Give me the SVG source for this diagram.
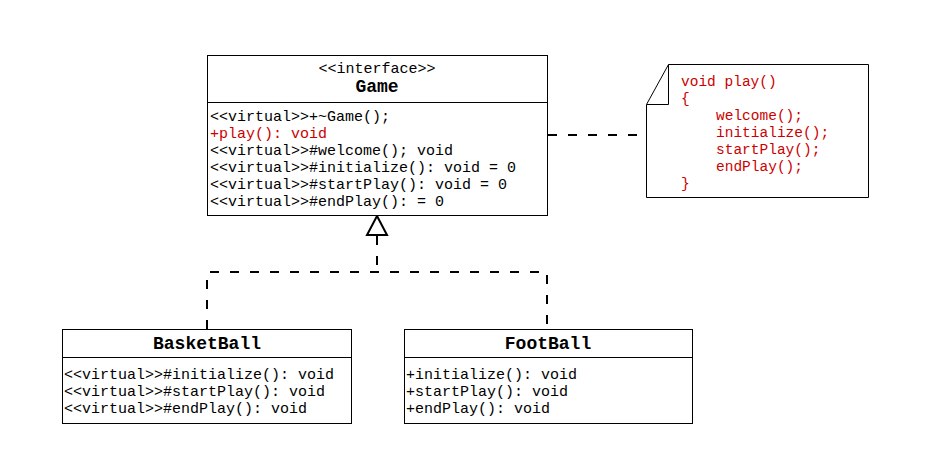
<svg xmlns="http://www.w3.org/2000/svg" width="926" height="460" viewBox="0 0 926 460">
<style>
.box{fill:#fff;stroke:#000;stroke-width:1}
.t{font-family:"Liberation Mono","DejaVu Sans Mono",monospace;font-size:15px;fill:#000}
.h{font-family:"Liberation Mono","DejaVu Sans Mono",monospace;font-size:18px;font-weight:bold;fill:#000;text-anchor:middle}
.r{fill:#cc0000}
.n{font-family:"Liberation Mono","DejaVu Sans Mono",monospace;font-size:14.5px;fill:#cc0000}
.dash{fill:none;stroke:#000;stroke-width:2;stroke-dasharray:9 11}
</style>
<rect width="926" height="460" fill="#fff"/>
<g id="connectors">
<line class="dash" x1="548" y1="135" x2="646" y2="135"/>
<line class="dash" x1="377" y1="236" x2="377" y2="272"/>
<polyline class="dash" points="207,329 207,272 547,272 547,329"/>
<polygon points="377,216 367,235 387,235" fill="#fff" stroke="#000" stroke-width="2"/>
</g>
<g id="game">
<rect class="box" x="207.5" y="55.5" width="340" height="160"/>
<line x1="207.5" y1="102.5" x2="547.5" y2="102.5" stroke="#000"/>
<text class="t" x="377" y="73" text-anchor="middle">&lt;&lt;interface&gt;&gt;</text>
<text class="h" x="377" y="92">Game</text>
<text class="t" x="210" y="121">&lt;&lt;virtual&gt;&gt;+~Game();</text>
<text class="t r" x="210" y="138">+play(): void</text>
<text class="t" x="210" y="155">&lt;&lt;virtual&gt;&gt;#welcome(); void</text>
<text class="t" x="210" y="172">&lt;&lt;virtual&gt;&gt;#initialize(): void = 0</text>
<text class="t" x="210" y="189">&lt;&lt;virtual&gt;&gt;#startPlay(): void = 0</text>
<text class="t" x="210" y="206">&lt;&lt;virtual&gt;&gt;#endPlay(): = 0</text>
</g>
<g id="note">
<path d="M668.5,64.5 H868.5 V197.5 H646.5 V104.5 Z" fill="#fff" stroke="#000"/>
<path d="M668.5,64.5 V104.5 H646.5" fill="none" stroke="#000"/>
<text class="n" x="681" y="86">void play()</text>
<text class="n" x="681" y="103">{</text>
<text class="n" x="716" y="120">welcome();</text>
<text class="n" x="716" y="137">initialize();</text>
<text class="n" x="716" y="154">startPlay();</text>
<text class="n" x="716" y="171">endPlay();</text>
<text class="n" x="681" y="188">}</text>
</g>
<g id="basketball">
<rect class="box" x="62.5" y="329.5" width="289" height="94"/>
<line x1="62.5" y1="357.5" x2="351.5" y2="357.5" stroke="#000"/>
<text class="h" x="207" y="349">BasketBall</text>
<text class="t" x="64" y="379">&lt;&lt;virtual&gt;&gt;#initialize(): void</text>
<text class="t" x="64" y="396">&lt;&lt;virtual&gt;&gt;#startPlay(): void</text>
<text class="t" x="64" y="413">&lt;&lt;virtual&gt;&gt;#endPlay(): void</text>
</g>
<g id="football">
<rect class="box" x="404.5" y="329.5" width="288" height="94"/>
<line x1="404.5" y1="357.5" x2="692.5" y2="357.5" stroke="#000"/>
<text class="h" x="548" y="349">FootBall</text>
<text class="t" x="406" y="379">+initialize(): void</text>
<text class="t" x="406" y="396">+startPlay(): void</text>
<text class="t" x="406" y="413">+endPlay(): void</text>
</g>
</svg>
